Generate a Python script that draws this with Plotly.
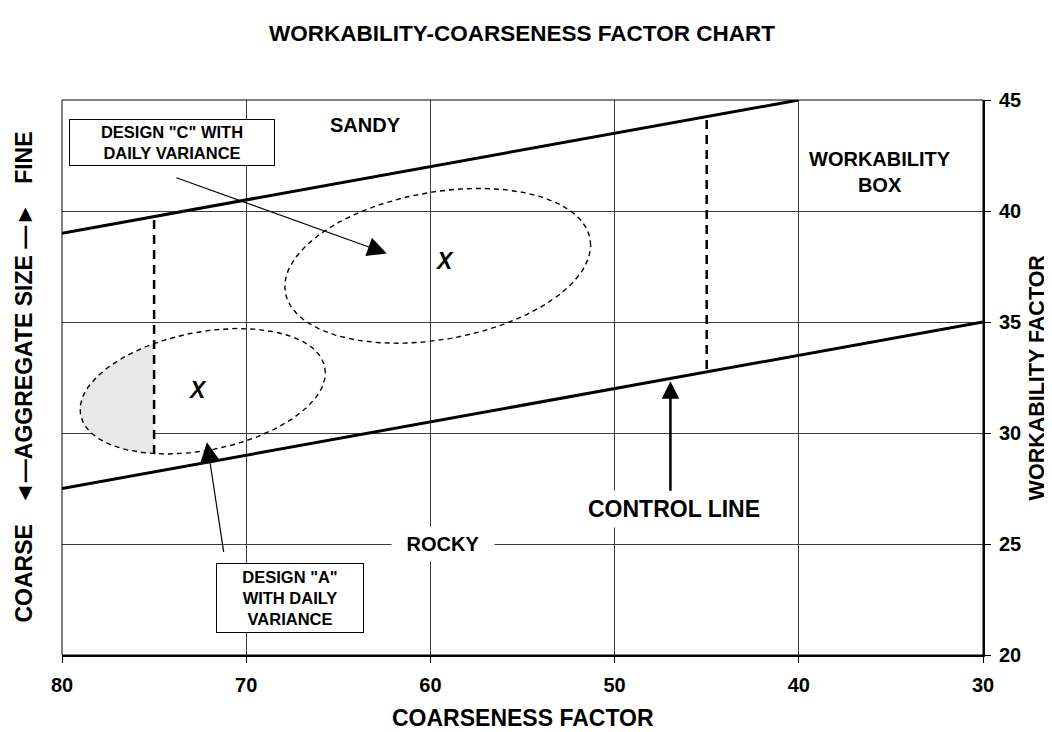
import numpy as np
import plotly.graph_objects as go

# boundary lines (coarseness factor, workability factor)
sandy_x = [80, 40]
sandy_y = [39.0, 45.0]
control_x = [80, 30]
control_y = [27.5, 35.0]

# workability box limits (dashed verticals)
box_left_x = [75, 75]
box_left_y = [39.6, 28.8]
box_right_x = [45, 45]
box_right_y = [44.1, 32.8]

# daily variance ellipses: centre, half width, tilt, half height
design_a = {"cx": 72.36, "cy": 31.88, "a": 6.66, "c": 0.83, "b": 2.70}
design_c = {"cx": 59.60, "cy": 37.53, "a": 8.30, "c": 0.93, "b": 3.36}

x_ticks = [80, 70, 60, 50, 40, 30]
y_ticks = [20, 25, 30, 35, 40, 45]

FONT = "Arial, Liberation Sans, sans-serif"


def ellipse(p, t):
    x = p["cx"] - p["a"] * np.cos(t)
    y = p["cy"] + p["c"] * np.cos(t) + p["b"] * np.sin(t)
    return x, y


t_all = np.linspace(0, 2 * np.pi, 200)
ax_pts, ay_pts = ellipse(design_a, t_all)
cx_pts, cy_pts = ellipse(design_c, t_all)

# shaded part of design A left of the x=75 limit
t0 = np.arccos((design_a["cx"] - box_left_x[0]) / design_a["a"])
t_sh = np.linspace(t0, 2 * np.pi - t0, 80)
sx, sy = ellipse(design_a, t_sh)

fig = go.Figure()

fig.add_trace(go.Scatter(x=list(sx), y=list(sy), fill="toself", mode="none",
                         fillcolor="rgb(232,232,232)", hoverinfo="skip"))
fig.add_trace(go.Scatter(x=sandy_x, y=sandy_y, mode="lines",
                         line=dict(color="black", width=3)))
fig.add_trace(go.Scatter(x=control_x, y=control_y, mode="lines",
                         line=dict(color="black", width=3)))
for xs, ys in [(box_left_x, box_left_y), (box_right_x, box_right_y)]:
    fig.add_trace(go.Scatter(x=xs, y=ys, mode="lines",
                             line=dict(color="black", width=2.5, dash="9px,6px")))
for xs, ys in [(ax_pts, ay_pts), (cx_pts, cy_pts)]:
    fig.add_trace(go.Scatter(x=list(xs), y=list(ys), mode="lines",
                             line=dict(color="black", width=1.4, dash="5px,4px")))

ann = []


def label(x, y, text, size, italic=False, **kw):
    d = dict(x=x, y=y, xref="x", yref="y", text=text, showarrow=False,
             font=dict(family=FONT, size=size, color="black", weight="bold",
                       style="italic" if italic else "normal"))
    d.update(kw)
    ann.append(d)


label(63.5, 43.86, "SANDY", 20)
label(35.6, 41.77, "WORKABILITY<br>BOX", 20)
label(59.24, 37.73, "X", 23, italic=True)
label(72.62, 31.92, "X", 23, italic=True)
label(59.33, 25.0, "ROCKY", 20, bgcolor="white", width=100, height=32)
label(46.77, 26.56, "CONTROL LINE", 23, bgcolor="white", height=34)
label(74.03, 43.07, 'DESIGN "C" WITH<br>DAILY VARIANCE', 16.5, bgcolor="white",
      bordercolor="black", borderwidth=1, width=202, height=43, borderpad=1)
label(67.63, 22.55, 'DESIGN "A"<br>WITH DAILY<br>VARIANCE', 16.5, bgcolor="white",
      bordercolor="black", borderwidth=1, width=144, height=66, borderpad=1)


def arrow(x, y, tx, ty, width, size):
    ann.append(dict(x=x, y=y, xref="x", yref="y", ax=tx, ay=ty, axref="x", ayref="y",
                    text="", showarrow=True, arrowhead=2, arrowsize=size,
                    arrowwidth=width, arrowcolor="black", standoff=0))


arrow(62.37, 38.09, 73.87, 41.52, 1.2, 3.2)
arrow(72.13, 29.58, 71.21, 24.58, 1.2, 3.2)
arrow(46.97, 32.33, 46.97, 27.33, 2.5, 1.4)

# axis titles
title_font = dict(family=FONT, size=23, color="black", weight="bold")
ann.append(dict(x=0.5, y=-0.1135, xref="paper", yref="paper", text="COARSENESS FACTOR",
                xanchor="center", yanchor="middle", showarrow=False, font=title_font))
ann.append(dict(x=1.0585, y=0.5, xref="paper", yref="paper", text="WORKABILITY FACTOR",
                xanchor="center", yanchor="middle", textangle=-90, showarrow=False,
                font=dict(family=FONT, size=21.5, color="black", weight="bold")))
ann.append(dict(x=-0.0423, y=0.5, xref="paper", yref="paper",
                text="COARSE   \u25C4\u2014AGGREGATE SIZE \u2014\u25BA   FINE",
                xanchor="center", yanchor="middle", textangle=-90, showarrow=False,
                font=title_font))

fig.update_layout(
    width=1052, height=732,
    margin=dict(l=54, r=77, t=92, b=85),
    paper_bgcolor="white", plot_bgcolor="white",
    showlegend=False,
    title=dict(text="WORKABILITY-COARSENESS FACTOR CHART", x=0.4886, xanchor="center",
               y=0.966, yanchor="middle",
               font=dict(family=FONT, size=22.5, color="black", weight="bold")),
    annotations=ann,
    shapes=[dict(type="rect", xref="paper", yref="paper", x0=0, x1=1, y0=0, y1=1,
                 line=dict(color="black", width=1))],
)
fig.update_xaxes(range=[80, 30], tickvals=x_ticks, showgrid=True, gridcolor="#3a3a3a",
                 gridwidth=1, zeroline=False, showline=True, linecolor="black", linewidth=2,
                 ticks="outside", ticklen=6, tickcolor="black", ticklabelstandoff=5,
                 tickfont=dict(family=FONT, size=20, color="black", weight="bold"))
fig.update_yaxes(range=[20, 45], tickvals=y_ticks, side="right", showgrid=True,
                 gridcolor="#3a3a3a", gridwidth=1, zeroline=False, showline=True,
                 linecolor="black", linewidth=2, ticks="outside", ticklen=6,
                 tickcolor="black", ticklabelstandoff=4,
                 tickfont=dict(family=FONT, size=20, color="black", weight="bold"))

fig.write_html("out.html")
